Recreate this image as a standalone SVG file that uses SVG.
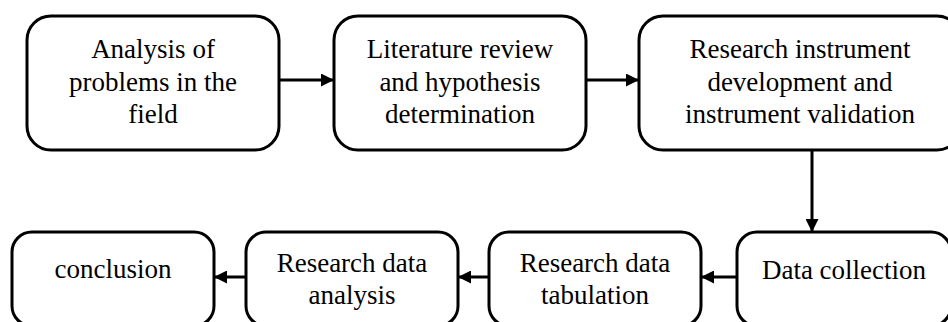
<svg xmlns="http://www.w3.org/2000/svg" width="948" height="322" viewBox="0 0 948 322">
  <style>
    .box { fill: #ffffff; stroke: #000000; stroke-width: 3; }
    .lbl { font-family: 'Liberation Serif', Tinos, 'Noto Serif', 'Nimbus Roman', FreeSerif, 'DejaVu Serif', serif; font-size: 27px; fill: #000000; text-anchor: middle; }
    .conn { stroke: #000000; stroke-width: 3; fill: none; marker-end: url(#arrow); }
  </style>
  <defs>
    <marker id="arrow" markerUnits="userSpaceOnUse" markerWidth="13" markerHeight="13" refX="13" refY="6.5" orient="auto">
      <path d="M0,0 L13,6.5 L0,13 Z" fill="#000000"/>
    </marker>
  </defs>
  <rect width="948" height="322" fill="#ffffff"/>

  <g id="connectors">
    <line class="conn" x1="279" y1="80" x2="334" y2="80"/>
    <line class="conn" x1="586" y1="80" x2="639" y2="80"/>
    <line class="conn" x1="812" y1="150" x2="812" y2="232"/>
    <line class="conn" x1="737" y1="277" x2="701" y2="277"/>
    <line class="conn" x1="489" y1="277" x2="458" y2="277"/>
    <line class="conn" x1="246" y1="277" x2="214" y2="277"/>
  </g>

  <g id="node-analysis">
    <rect class="box" x="27" y="16" width="252" height="134" rx="24" ry="24"/>
    <text class="lbl" x="153" y="58">Analysis of</text>
    <text class="lbl" x="153" y="91">problems in the</text>
    <text class="lbl" x="153" y="123">field</text>
  </g>

  <g id="node-literature">
    <rect class="box" x="334" y="16" width="252" height="134" rx="24" ry="24"/>
    <text class="lbl" x="460" y="58">Literature review</text>
    <text class="lbl" x="460" y="91">and hypothesis</text>
    <text class="lbl" x="460" y="123">determination</text>
  </g>

  <g id="node-instrument">
    <rect class="box" x="639" y="16" width="322" height="134" rx="24" ry="24"/>
    <text class="lbl" x="800" y="58">Research instrument</text>
    <text class="lbl" x="800" y="91">development and</text>
    <text class="lbl" x="800" y="123">instrument validation</text>
  </g>

  <g id="node-collection">
    <rect class="box" x="737" y="232" width="214" height="94" rx="20" ry="20"/>
    <text class="lbl" x="844" y="279">Data collection</text>
  </g>

  <g id="node-tabulation">
    <rect class="box" x="489" y="232" width="212" height="94" rx="20" ry="20"/>
    <text class="lbl" x="595" y="272">Research data</text>
    <text class="lbl" x="595" y="304">tabulation</text>
  </g>

  <g id="node-data-analysis">
    <rect class="box" x="246" y="232" width="212" height="94" rx="20" ry="20"/>
    <text class="lbl" x="352" y="272">Research data</text>
    <text class="lbl" x="352" y="304">analysis</text>
  </g>

  <g id="node-conclusion">
    <rect class="box" x="12" y="232" width="202" height="94" rx="20" ry="20"/>
    <text class="lbl" x="113" y="278">conclusion</text>
  </g>
</svg>
